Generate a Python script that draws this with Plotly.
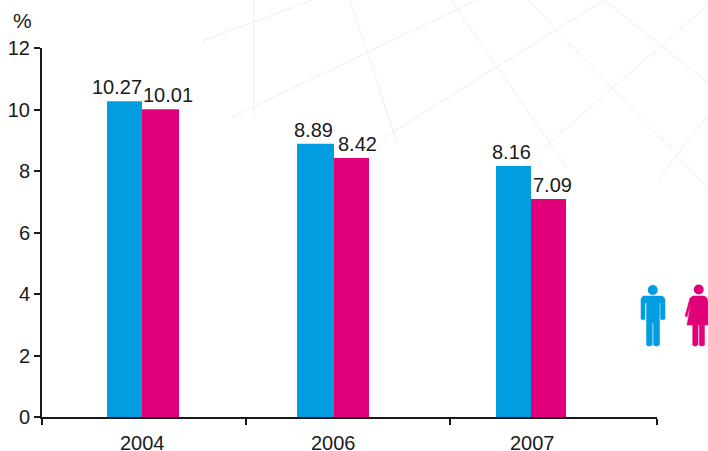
import plotly.graph_objects as go

years = ["2004", "2006", "2007"]
men = [10.27, 8.89, 8.16]
women = [10.01, 8.42, 7.09]
men_labels = ["10.27", "8.89", "8.16"]
women_labels = ["10.01", "8.42", "7.09"]
y_ticks = [0, 2, 4, 6, 8, 10, 12]

W, H = 708, 451
L, R, T, B = 42, 657, 48, 417
BLUE, PINK, INK, GRID = "#009EE0", "#E2007A", "#1a1a1a", "#eeeeee"
FONT = "Liberation Sans, Arial, sans-serif"
UNIT = (R - L) / 3


def px(x):
    return (x - L) / (R - L)


def py(y):
    return (B - y) / (B - T)


def cat(x):
    return (x - L) / UNIT - 0.5


# bar edges in screen pixels (left, right) per group
men_edges = [(107, 142), (297, 334), (496, 531)]
women_edges = [(142, 179), (334, 369), (531, 566)]
centers = [0, 1, 2]


def offs(edges):
    return [cat(a) - c for (a, b), c in zip(edges, centers)]


def wid(edges):
    return [(b - a) / UNIT for a, b in edges]


fig = go.Figure()
fig.add_bar(x=centers, y=men, name="Men", marker=dict(color=BLUE, line_width=0),
            offset=offs(men_edges), width=wid(men_edges))
fig.add_bar(x=centers, y=women, name="Women", marker=dict(color=PINK, line_width=0),
            offset=offs(women_edges), width=wid(women_edges))

ann = []
men_lx = [116.5, 313.5, 511]
women_lx = [168, 357, 552]
for lab, val, xp in list(zip(men_labels, men, men_lx)) + list(zip(women_labels, women, women_lx)):
    ann.append(dict(x=cat(xp), y=val, xref="x", yref="y", text=lab, showarrow=False,
                    yanchor="bottom", xanchor="center", yshift=1,
                    font=dict(family=FONT, size=20, color=INK)))
for lab, xp in zip(years, [142.5, 333, 532]):
    ann.append(dict(x=px(xp), y=py(443), xref="paper", yref="paper", text=lab, showarrow=False,
                    yanchor="middle", xanchor="center",
                    font=dict(family=FONT, size=20, color=INK)))
ann.append(dict(x=px(22.5), y=py(21), xref="paper", yref="paper", text="%", showarrow=False,
                yanchor="middle", xanchor="center",
                font=dict(family=FONT, size=21, color=INK)))

shapes = []
grid_lines = [
    [(202, 41), (313, 0)],
    [(254, 0), (254, 118)],
    [(232, 117), (477, 0)],
    [(350, 0), (397, 142)],
    [(383, 138), (604, 0)],
    [(451, 0), (567, 168)],
    [(528, 0), (708, 188)],
    [(524, 165), (708, 5)],
    [(604, 0), (708, 83)],
    [(659, 178), (708, 115)],
]
for (x0, y0), (x1, y1) in grid_lines:
    shapes.append(dict(type="line", xref="paper", yref="paper", layer="below",
                       x0=px(x0), y0=py(y0), x1=px(x1), y1=py(y1),
                       line=dict(color=GRID, width=1)))


def path(points, color):
    d = "M " + " L ".join(f"{px(x):.5f},{py(y):.5f}" for x, y in points) + " Z"
    return dict(type="path", xref="paper", yref="paper", path=d,
                fillcolor=color, line=dict(color=color, width=0.5))


def head(cx, cy, r, color):
    return dict(type="circle", xref="paper", yref="paper",
                x0=px(cx - r), x1=px(cx + r), y0=py(cy + r), y1=py(cy - r),
                fillcolor=color, line=dict(width=0))


# man icon
shapes += [
    head(652.8, 290, 5, BLUE),
    path([(643, 296), (662.5, 296), (665, 299), (665, 319), (662.5, 320), (660.5, 319), (660.5, 303),
          (659.5, 303), (659.5, 345), (657.5, 346), (655, 346), (653.5, 345), (653.5, 323), (652.3, 323),
          (652.3, 345), (650.5, 346), (648, 346), (646.5, 345), (646.5, 303), (645, 303), (645, 319),
          (643, 320), (641, 319), (641, 299)], BLUE),
    # woman icon
    head(698.7, 289.5, 5, PINK),
    path([(693, 296), (704.5, 296), (707, 298), (712, 316), (710, 325), (704.5, 325), (704.5, 345),
          (702.5, 346), (700.5, 346), (699.3, 345), (699.3, 325), (698, 325), (698, 345), (696, 346),
          (694, 346), (692.7, 345), (692.7, 325), (687, 325), (691, 303), (687, 317), (685, 316),
          (690, 298)], PINK),
]

fig.update_layout(
    width=W, height=H,
    margin=dict(l=L, r=W - R, t=T, b=H - B, autoexpand=False),
    paper_bgcolor="white", plot_bgcolor="rgba(0,0,0,0)",
    barmode="overlay", showlegend=False,
    annotations=ann, shapes=shapes,
    font=dict(family=FONT, size=20, color=INK),
    xaxis=dict(range=[-0.5, 2.5], tickmode="array", tickvals=[cat(42), cat(246), cat(450), cat(657)],
               showticklabels=False, ticks="outside", ticklen=6, tickwidth=2, tickcolor=INK,
               showline=True, linecolor=INK, linewidth=2, showgrid=False, zeroline=False),
    yaxis=dict(range=[0, 12], tickmode="array", tickvals=y_ticks, ticks="outside", ticklen=6,
               tickwidth=2, tickcolor=INK, showline=True, linecolor=INK, linewidth=2,
               showgrid=False, zeroline=False, tickfont=dict(family=FONT, size=20, color=INK)),
)
fig.write_html("out.html", config=dict(displayModeBar=False),
               post_script="document.documentElement.style.overflow='hidden';document.body.style.margin='0';")
